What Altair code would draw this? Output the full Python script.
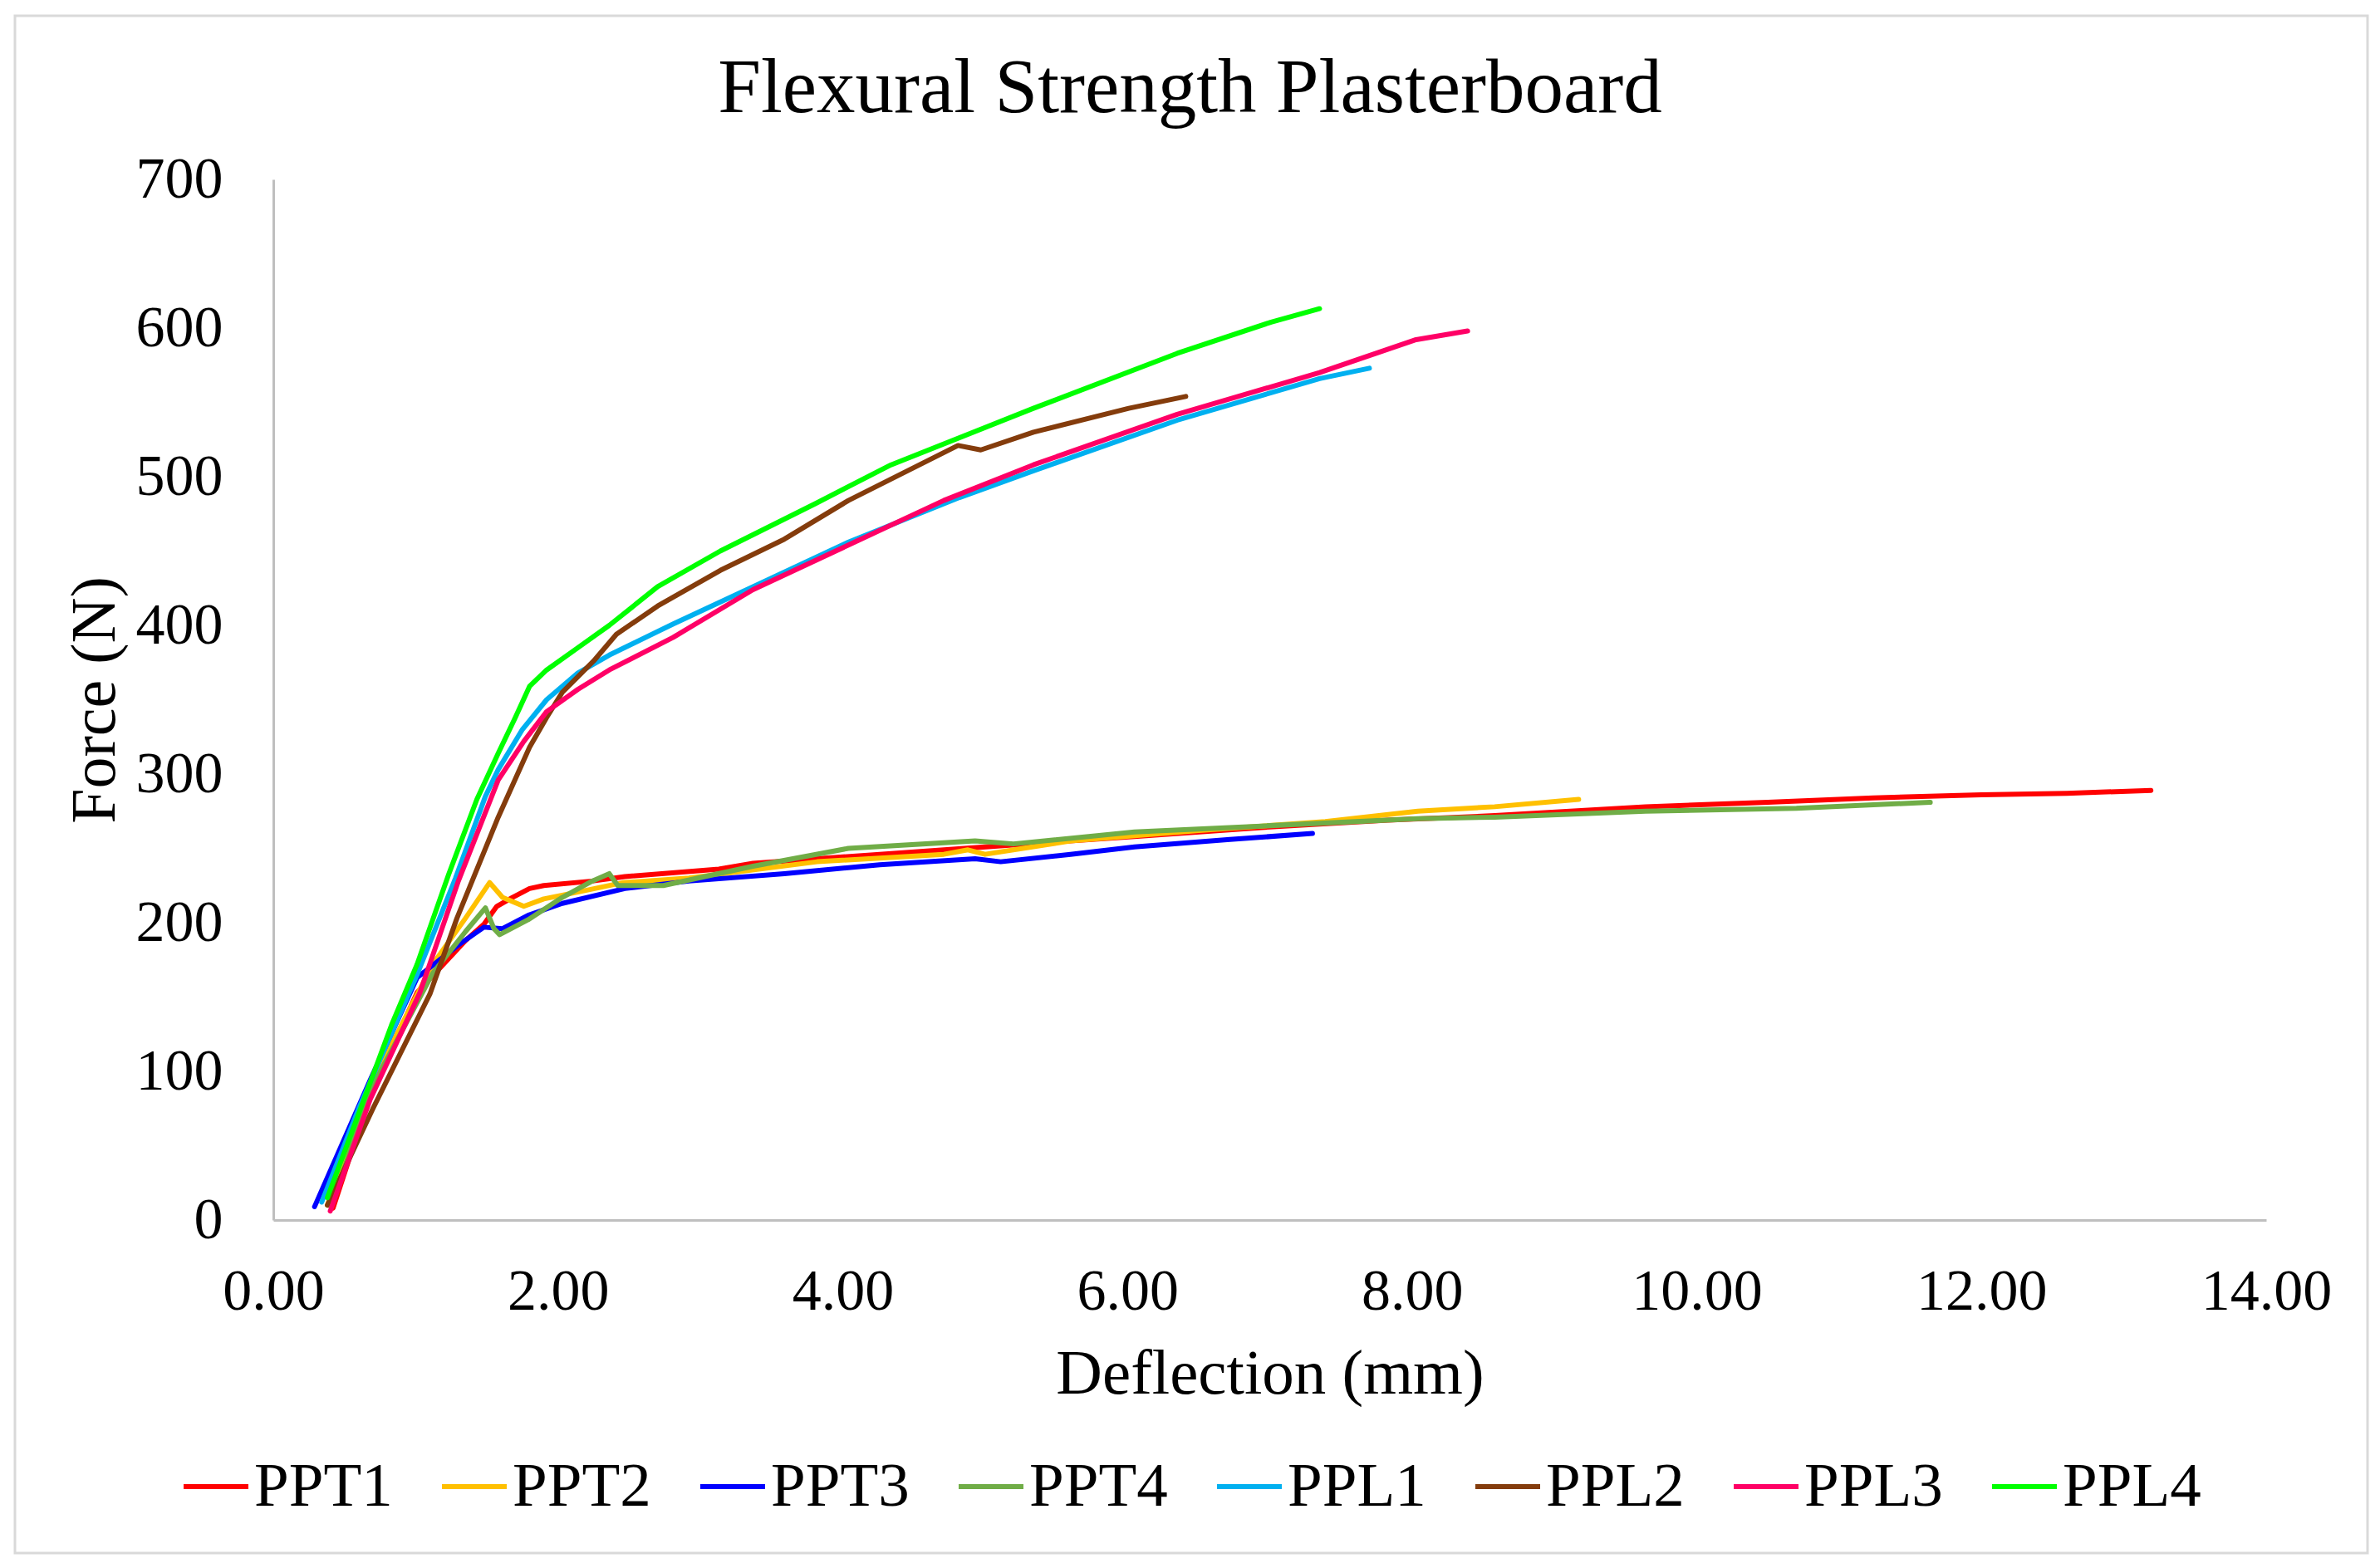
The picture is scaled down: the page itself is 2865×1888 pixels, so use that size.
import altair as alt
import pandas as pd

# ---- data ----
series_names = ["PPT1", "PPT2", "PPT3", "PPT4", "PPL1", "PPL2", "PPL3", "PPL4"]
series_colors = ["#FF0000", "#FFC000", "#0000FF", "#70AD47", "#00B0F0", "#843C0C", "#FF0066", "#00FF00"]

ppt1_x = [0.42, 0.68, 1.01, 1.35, 1.48, 1.57, 1.68, 1.80, 1.90, 2.24, 2.47, 3.13, 3.37, 4.26, 5.15, 6.05, 6.94, 7.83, 8.58, 9.64, 10.50, 11.24, 12.00, 12.60, 13.19]
ppt1_f = [8, 84, 153, 188, 199, 211, 217, 223, 225, 228, 231, 236, 240, 246, 252, 258, 264, 269, 272, 278, 281, 284, 286, 287, 289]

ppt2_x = [0.38, 0.68, 1.12, 1.35, 1.52, 1.61, 1.76, 1.90, 2.16, 2.46, 2.92, 3.82, 4.71, 4.88, 5.00, 5.60, 6.50, 7.39, 8.04, 8.58, 9.17]
ppt2_f = [10, 90, 172, 203, 227, 217, 211, 216, 221, 227, 230, 241, 246, 249, 246, 255, 262, 268, 275, 278, 283]

ppt3_x = [0.29, 0.68, 1.01, 1.30, 1.48, 1.61, 1.79, 2.03, 2.47, 2.92, 3.59, 4.26, 4.93, 5.11, 5.60, 6.05, 6.72, 7.30]
ppt3_f = [9, 94, 163, 185, 197, 196, 205, 213, 223, 228, 233, 239, 243, 241, 246, 251, 256, 260]

ppt4_x = [0.42, 0.68, 1.12, 1.35, 1.49, 1.55, 1.59, 1.79, 2.03, 2.24, 2.36, 2.42, 2.74, 3.37, 4.04, 4.93, 5.20, 6.05, 6.94, 8.04, 8.58, 9.64, 10.70, 11.64]
ppt4_f = [12, 87, 166, 194, 210, 196, 192, 202, 217, 228, 233, 225, 225, 238, 250, 255, 253, 261, 265, 270, 271, 275, 277, 281]

ppl1_x = [0.34, 0.60, 1.01, 1.28, 1.49, 1.58, 1.75, 1.92, 2.14, 2.36, 2.81, 3.37, 4.04, 4.82, 5.34, 6.35, 7.35, 7.70]
ppl1_f = [12, 75, 165, 230, 285, 303, 330, 350, 368, 380, 401, 426, 456, 486, 504, 538, 566, 573]

ppl2_x = [0.38, 0.70, 1.10, 1.29, 1.58, 1.80, 1.92, 2.03, 2.25, 2.41, 2.70, 3.14, 3.59, 4.04, 4.81, 4.97, 5.34, 6.01, 6.41]
ppl2_f = [10, 75, 152, 203, 271, 318, 338, 355, 376, 394, 413, 437, 458, 484, 521, 518, 530, 546, 554]

ppl3_x = [0.40, 0.68, 1.03, 1.30, 1.58, 1.76, 1.92, 2.14, 2.36, 2.81, 3.37, 4.04, 4.71, 5.34, 6.35, 7.35, 8.02, 8.39]
ppl3_f = [6, 81, 153, 228, 296, 322, 342, 357, 370, 392, 424, 454, 484, 508, 542, 570, 592, 598]

ppl4_x = [0.38, 0.59, 0.83, 1.01, 1.23, 1.43, 1.58, 1.70, 1.80, 1.92, 2.14, 2.36, 2.70, 3.14, 3.81, 4.34, 5.34, 6.35, 7.01, 7.35]
ppl4_f = [15, 69, 131, 172, 232, 283, 314, 338, 359, 370, 385, 400, 426, 450, 482, 508, 546, 583, 604, 613]

x_ticks = [0, 2, 4, 6, 8, 10, 12, 14]
y_ticks = [0, 100, 200, 300, 400, 500, 600, 700]

all_x = [ppt1_x, ppt2_x, ppt3_x, ppt4_x, ppl1_x, ppl2_x, ppl3_x, ppl4_x]
all_f = [ppt1_f, ppt2_f, ppt3_f, ppt4_f, ppl1_f, ppl2_f, ppl3_f, ppl4_f]

rows = []
for name, xs, fs in zip(series_names, all_x, all_f):
    for i, (xv, fv) in enumerate(zip(xs, fs)):
        rows.append({"series": name, "deflection": xv, "force": fv, "idx": i})
df = pd.DataFrame(rows)

FONT = "Liberation Serif"
W, H = 2399, 1253

lines = alt.Chart(df).mark_line(strokeWidth=6, strokeJoin="round", strokeCap="round").encode(
    x=alt.X("deflection:Q",
            scale=alt.Scale(domain=[0, 14], nice=False, zero=False),
            axis=alt.Axis(values=x_ticks, format=".2f", title="Deflection (mm)",
                          labelBaseline="alphabetic", labelPadding=107,
                          titleX=W / 2, titleY=208, titleAlign="center",
                          titleBaseline="alphabetic", titleFontSize=77)),
    y=alt.Y("force:Q",
            scale=alt.Scale(domain=[0, 700], nice=False),
            axis=alt.Axis(values=y_ticks, format="d", title="Force (N)",
                          labelPadding=61, titleAngle=270,
                          titleX=-192, titleY=H / 2, titleAlign="center",
                          titleBaseline="alphabetic", titleFontSize=76)),
    color=alt.Color("series:N",
                    scale=alt.Scale(domain=series_names, range=series_colors),
                    sort=series_names,
                    legend=alt.Legend(title=None, orient="none", direction="horizontal",
                                      columns=8, legendX=-111, legendY=1532,
                                      symbolType="stroke", symbolSize=6084,
                                      symbolStrokeWidth=6, labelFontSize=75,
                                      labelFont=FONT, labelColor="black",
                                      labelOffset=4, columnPadding=47, padding=0,
                                      labelLimit=0)),
    order=alt.Order("idx:Q"),
)

border = alt.Chart(pd.DataFrame({"k": [0]})).mark_rect(
    fillOpacity=0, stroke="#D9D9D9", strokeWidth=3
).encode(
    x=alt.value(-311), x2=alt.value(2521), y=alt.value(-197), y2=alt.value(1654)
)

chart = alt.layer(border, lines).properties(
    width=W, height=H,
    title=alt.TitleParams(text="Flexural Strength Plasterboard", font=FONT, fontSize=93,
                          fontWeight="normal", color="black", anchor="middle",
                          frame="group", baseline="alphabetic", offset=40, dx=-96, dy=250),
    padding={"left": 321, "top": 208, "right": 129, "bottom": 411},
    autosize=alt.AutoSizeParams(type="none"),
    background="white",
).configure_view(stroke=None).configure_axis(
    grid=False, ticks=False, tickSize=0,
    labelFont=FONT, labelFontSize=70, labelColor="black",
    titleFont=FONT, titleFontWeight="normal", titleColor="black",
    domainColor="#BFBFBF", domainWidth=3,
    labelFlush=False, labelOverlap=False,
)

chart.save("out.html", embed_options={"renderer": "svg", "actions": False})
